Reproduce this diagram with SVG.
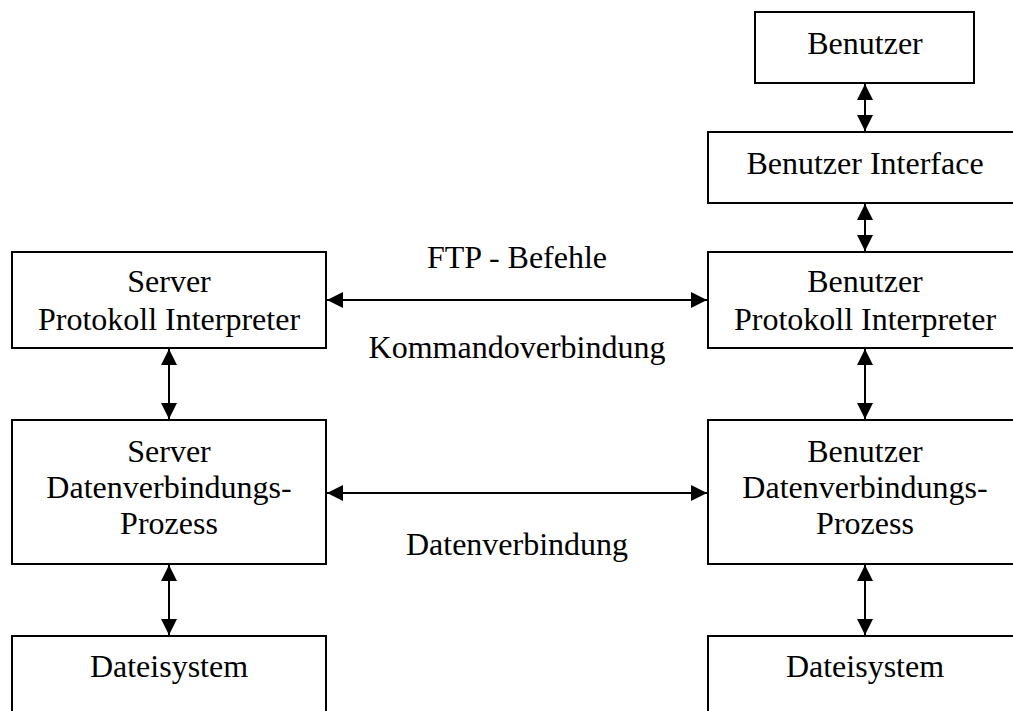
<svg xmlns="http://www.w3.org/2000/svg" width="1013" height="711" viewBox="0 0 1013 711">
<style>
.box{fill:#fff;stroke:#000;stroke-width:2}
.t{font-family:"Liberation Serif","Times New Roman",serif;font-size:32px;fill:#000;text-anchor:middle}
.c{stroke:#000;stroke-width:2;fill:none;marker-start:url(#a);marker-end:url(#a)}
</style>
<defs>
<marker id="a" viewBox="0 0 16 16" refX="16" refY="8" markerWidth="16" markerHeight="16" markerUnits="userSpaceOnUse" orient="auto-start-reverse">
<path d="M0,0 L16,8 L0,16 Z" fill="#000"/>
</marker>
</defs>
<rect width="1013" height="711" fill="#fff"/>
<g id="benutzer"><rect class="box" x="755" y="12" width="219" height="71"/><text class="t" x="865" y="54">Benutzer</text></g>
<g id="benutzer-interface"><rect class="box" x="708" y="132" width="314" height="71"/><text class="t" x="865" y="174">Benutzer Interface</text></g>
<g id="server-pi"><rect class="box" x="12" y="252" width="314" height="96"/><text class="t" x="169" y="292">Server</text><text class="t" x="169" y="330">Protokoll Interpreter</text></g>
<g id="benutzer-pi"><rect class="box" x="708" y="252" width="314" height="96"/><text class="t" x="865" y="292">Benutzer</text><text class="t" x="865" y="330">Protokoll Interpreter</text></g>
<g id="server-dvp"><rect class="box" x="12" y="420" width="314" height="144"/><text class="t" x="169" y="462">Server</text><text class="t" x="169" y="498">Datenverbindungs-</text><text class="t" x="169" y="534">Prozess</text></g>
<g id="benutzer-dvp"><rect class="box" x="708" y="420" width="314" height="144"/><text class="t" x="865" y="462">Benutzer</text><text class="t" x="865" y="498">Datenverbindungs-</text><text class="t" x="865" y="534">Prozess</text></g>
<g id="server-fs"><rect class="box" x="12" y="636" width="314" height="100"/><text class="t" x="169" y="677">Dateisystem</text></g>
<g id="benutzer-fs"><rect class="box" x="708" y="636" width="314" height="100"/><text class="t" x="865" y="677">Dateisystem</text></g>
<g id="labels">
<text class="t" x="517" y="268">FTP - Befehle</text>
<text class="t" x="517" y="358">Kommandoverbindung</text>
<text class="t" x="517" y="555">Datenverbindung</text>
</g>
<g id="connectors">
<line class="c" x1="865" y1="84" x2="865" y2="131"/>
<line class="c" x1="865" y1="204" x2="865" y2="251"/>
<line class="c" x1="169" y1="349" x2="169" y2="419"/>
<line class="c" x1="865" y1="349" x2="865" y2="419"/>
<line class="c" x1="169" y1="565" x2="169" y2="635"/>
<line class="c" x1="865" y1="565" x2="865" y2="635"/>
<line class="c" x1="327" y1="300" x2="707" y2="300"/>
<line class="c" x1="327" y1="493" x2="707" y2="493"/>
</g>
</svg>
